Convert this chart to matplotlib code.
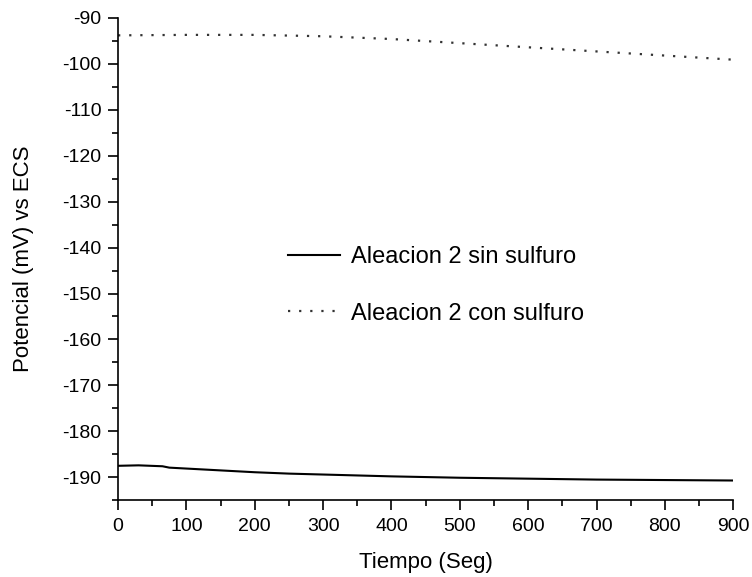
import matplotlib
matplotlib.use("Agg")
import matplotlib.pyplot as plt
from matplotlib.ticker import MultipleLocator

plt.rcParams["font.family"] = ["Liberation Sans", "DejaVu Sans"]
plt.rcParams["axes.unicode_minus"] = False

# potential vs time, both runs of alloy 2
t_sin = [0, 30, 65, 75, 100, 150, 200, 250, 300, 350, 400, 500, 600, 700, 800, 900]
e_sin = [-187.5, -187.4, -187.6, -187.9, -188.1, -188.5, -188.9, -189.2, -189.4,
         -189.6, -189.8, -190.1, -190.3, -190.5, -190.6, -190.7]

t_con = [0, 100, 200, 300, 400, 500, 600, 700, 800, 900]
e_con = [-93.8, -93.7, -93.7, -94.0, -94.6, -95.5, -96.4, -97.3, -98.2, -99.1]

labels = ["Aleacion 2 sin sulfuro", "Aleacion 2 con sulfuro"]

fig = plt.figure(figsize=(7.52, 5.77), dpi=100)
ax = fig.add_axes([0.157, 0.133, 0.818, 0.836])

ax.plot(t_sin, e_sin, color="black", lw=1.5, label=labels[0])
ax.plot(t_con, e_con, color="#333333", lw=1.6, linestyle=(0, (1, 4)), label=labels[1])

ax.set_xlim(0, 900)
ax.set_ylim(-195, -90)
ax.xaxis.set_major_locator(MultipleLocator(100))
ax.xaxis.set_minor_locator(MultipleLocator(50))
ax.yaxis.set_major_locator(MultipleLocator(10))
ax.yaxis.set_minor_locator(MultipleLocator(5))
ax.tick_params(which="major", direction="out", length=7, width=1.2, labelsize=14)
ax.tick_params(which="minor", direction="out", length=4, width=1.2)
ax.tick_params(axis="x", which="major", pad=6)
ax.tick_params(axis="y", which="major", pad=5)
for s in ("top", "right"):
    ax.spines[s].set_visible(False)
for s in ("left", "bottom"):
    ax.spines[s].set_linewidth(1.2)

ax.set_xlabel("Tiempo (Seg)", fontsize=16, labelpad=12)
ax.set_ylabel("Potencial (mV) vs ECS", fontsize=16, labelpad=20)

ax.legend(loc="center left", bbox_to_anchor=(0.242, 0.445), frameon=False,
          fontsize=17, handlelength=2.2, handletextpad=0.45, labelspacing=1.45)

fig.savefig("out.png", dpi=100)
